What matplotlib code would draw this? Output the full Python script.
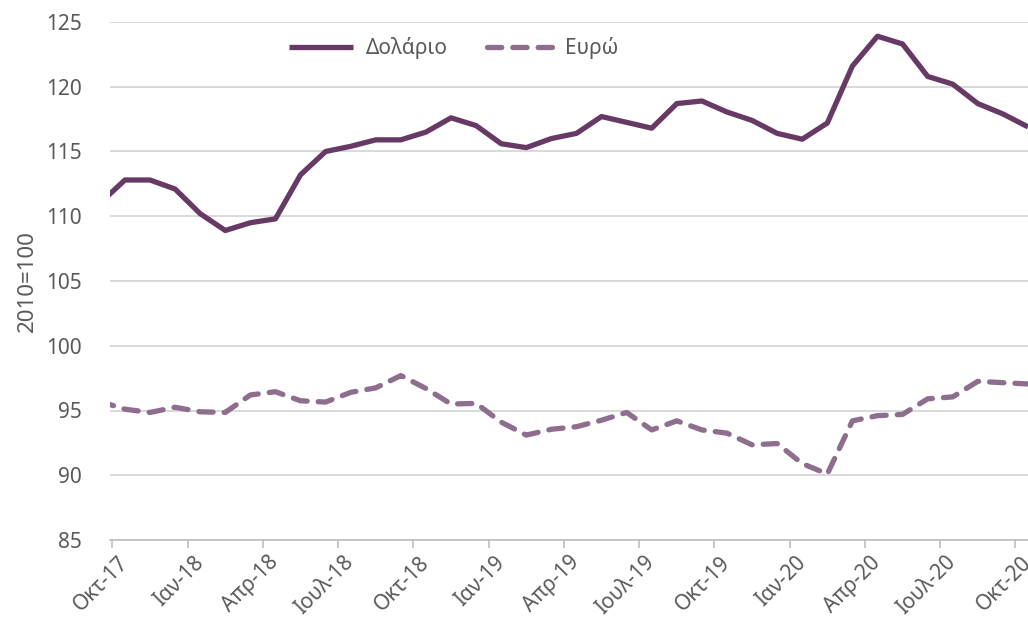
import matplotlib
matplotlib.use("Agg")
import matplotlib.pyplot as plt
import numpy as np

plt.rcParams['font.family'] = ['Noto Sans', 'DejaVu Sans']

months = ['Σεπ-17', 'Οκτ-17', 'Νοε-17', 'Δεκ-17', 'Ιαν-18', 'Φεβ-18', 'Μαρ-18', 'Απρ-18',
          'Μαϊ-18', 'Ιουν-18', 'Ιουλ-18', 'Αυγ-18', 'Σεπ-18', 'Οκτ-18', 'Νοε-18', 'Δεκ-18',
          'Ιαν-19', 'Φεβ-19', 'Μαρ-19', 'Απρ-19', 'Μαϊ-19', 'Ιουν-19', 'Ιουλ-19', 'Αυγ-19',
          'Σεπ-19', 'Οκτ-19', 'Νοε-19', 'Δεκ-19', 'Ιαν-20', 'Φεβ-20', 'Μαρ-20', 'Απρ-20',
          'Μαϊ-20', 'Ιουν-20', 'Ιουλ-20', 'Αυγ-20', 'Σεπ-20', 'Οκτ-20']

dollar = [111.0, 112.8, 112.8, 112.1, 110.2, 108.9, 109.5, 109.8, 113.2, 115.0,
          115.4, 115.9, 115.9, 116.5, 117.6, 117.0, 115.6, 115.3, 116.0, 116.4,
          117.7, 117.25, 116.8, 118.7, 118.9, 118.05, 117.4, 116.4, 115.95, 117.2,
          121.6, 123.9, 123.3, 120.8, 120.2, 118.7, 117.9, 116.9]

euro = [95.7, 95.1, 94.85, 95.25, 94.9, 94.85, 96.2, 96.45, 95.75, 95.65,
        96.4, 96.75, 97.7, 96.7, 95.5, 95.55, 94.1, 93.1, 93.55, 93.75,
        94.25, 94.85, 93.5, 94.2, 93.5, 93.25, 92.35, 92.45, 90.9, 90.1,
        94.2, 94.6, 94.7, 95.9, 96.05, 97.25, 97.15, 97.05]

series_names = ['Δολάριο', 'Ευρώ']
y_label = '2010=100'
y_ticks = [85, 90, 95, 100, 105, 110, 115, 120, 125]

W, H = 1028, 620
fig = plt.figure(figsize=(W / 100, H / 100), dpi=100)
left_px, right_px, top_px, bottom_px = 110, 1028, 22, 540
ax = fig.add_axes([left_px / W, (H - bottom_px) / H,
                   (right_px - left_px) / W, (bottom_px - top_px) / H])

x = np.arange(len(months))
c_dollar = '#673a66'
c_euro = '#8e6e8d'
ax.plot(x, dollar, color=c_dollar, lw=3.8, solid_capstyle='butt',
        solid_joinstyle='round', label=series_names[0], zorder=3)
ax.plot(x, euro, color=c_euro, lw=3.8, dashes=(2.7, 2.1), dash_capstyle='round',
        dash_joinstyle='round', label=series_names[1], zorder=3)

px_per_month = 25.2
x0 = 1 - (125 - left_px) / px_per_month
ax.set_xlim(x0, x0 + (right_px - left_px) / px_per_month)
ax.set_ylim(85, 125)

# y axis
ax.set_yticks(y_ticks)
ax.tick_params(axis='y', length=0, pad=20, labelsize=15, labelcolor='#595959')
ax.grid(axis='y', color='#d9d9d9', lw=1.4, zorder=0)
ax.set_ylabel(y_label, fontsize=16, color='#595959', labelpad=6)

# x axis: labels at every 3rd month, tick marks at month boundaries
lab_idx = list(range(1, len(months), 3))
ax.set_xticks([i - 0.5 for i in lab_idx])
ax.set_xticklabels([])
ax.tick_params(axis='x', which='major', length=6, width=1.2, color='#bfbfbf', direction='out')
ax.set_xticks(lab_idx, minor=True)
ax.set_xticklabels([months[i] for i in lab_idx], minor=True, rotation=45,
                   ha='right', va='center', rotation_mode='anchor',
                   fontsize=15, color='#595959')
ax.tick_params(axis='x', which='minor', length=0, pad=14)

for s in ['left', 'right', 'top']:
    ax.spines[s].set_visible(False)
ax.spines['bottom'].set_color('#bfbfbf')
ax.spines['bottom'].set_linewidth(1.2)
ax.set_axisbelow(True)

leg = ax.legend(loc='center', bbox_to_anchor=(0.374, 0.95), ncol=2, frameon=False,
                fontsize=15, handlelength=3.1, columnspacing=1.9, handletextpad=0.6)
for t in leg.get_texts():
    t.set_color('#595959')

fig.savefig('out.png', dpi=100)
